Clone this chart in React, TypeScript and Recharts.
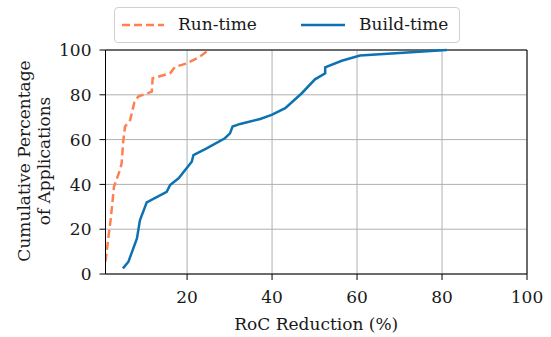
import { LineChart, Line, XAxis, YAxis, CartesianGrid, ReferenceLine } from "recharts";

// Run-time reduction (%) vs cumulative percentage of applications
const runTimeX = [0.8, 1.5, 2.0, 2.8, 4.2, 4.6, 5.0, 5.4, 6.6, 7.6, 8.5, 11.7, 11.9, 16.0, 17.2, 19.9, 23.0, 25.0];
const runTimeY = [5.5, 16.7, 24, 39, 46.4, 49.4, 59.8, 65.8, 68.8, 76.7, 79.2, 81.4, 87.4, 89.6, 92.5, 94, 97, 100];

// Build-time reduction (%) vs cumulative percentage of applications
const buildTimeX = [4.9, 6.2, 8.2, 8.9, 10.5, 15.2, 16.0, 18.0, 21.1, 21.5, 24.6, 28.9, 30.1, 30.7, 32.5, 37.2, 39.9, 43.1, 47.0, 50.1, 52.5, 52.5, 56.4, 60.7, 81.1];
const buildTimeY = [2.5, 5.5, 15.9, 24, 32, 36.7, 39.7, 42.7, 50.1, 53.1, 56.1, 60.6, 62.8, 65.8, 67, 69.2, 71, 74, 80.7, 86.9, 89.6, 92.3, 95.2, 97.5, 100];

const xTicks = [20, 40, 60, 80, 100];
const yTicks = [0, 20, 40, 60, 80, 100];

const runTime = runTimeX.map((x, i) => ({ x, y: runTimeY[i] }));
const buildTime = buildTimeX.map((x, i) => ({ x, y: buildTimeY[i] }));

const FONT = "'DejaVu Serif', serif";
const TEXT = "#1a1a1a";
const ORANGE = "#FF7F50";
const BLUE = "#0C72B2";

const XTick = ({ x, y, payload }: any) => (
  <text x={x} y={y} dy="0.71em" textAnchor="middle" style={{ fontFamily: FONT, fontSize: 17 }} fill={TEXT}>
    {payload.value}
  </text>
);

const YTick = ({ x, y, payload }: any) => (
  <text x={x} y={y} dy="0.36em" textAnchor="end" style={{ fontFamily: FONT, fontSize: 17 }} fill={TEXT}>
    {payload.value}
  </text>
);

const XLabel = ({ viewBox }: any) => (
  <text x={viewBox.x + viewBox.width / 2} y={330} textAnchor="middle" style={{ fontFamily: FONT, fontSize: 17 }} fill={TEXT}>
    RoC Reduction (%)
  </text>
);

const YLabel = () => (
  <text style={{ fontFamily: FONT, fontSize: 17 }} fill={TEXT} textAnchor="middle" transform="translate(0,161) rotate(-90)">
    <tspan x={0} y={30}>Cumulative Percentage</tspan>
    <tspan x={0} y={50}>of Applications</tspan>
  </text>
);

const LegendBox = () => (
  <div
    style={{
      position: "absolute",
      left: 114,
      top: 7,
      width: 346,
      height: 36,
      border: "1px solid #d0d0d0",
      borderRadius: 4,
      background: "#fff",
      fontFamily: FONT,
      fontSize: 17,
      color: TEXT,
      boxSizing: "border-box",
    }}
  >
    <svg width={42} height={6} style={{ position: "absolute", left: 7, top: 14 }}>
      <line x1={0} y1={3} x2={42} y2={3} stroke={ORANGE} strokeWidth={2.5} strokeDasharray="8 4" />
    </svg>
    <span style={{ position: "absolute", left: 63, top: 6, lineHeight: "20px" }}>Run-time</span>
    <svg width={44} height={6} style={{ position: "absolute", left: 186, top: 14 }}>
      <line x1={0} y1={3} x2={44} y2={3} stroke={BLUE} strokeWidth={2.5} />
    </svg>
    <span style={{ position: "absolute", left: 244, top: 6, lineHeight: "20px" }}>Build-time</span>
  </div>
);

export default function App() {
  return (
    <div style={{ position: "absolute", left: 0, top: 0, width: 551, height: 337, background: "#fff", fontFamily: FONT }}>
      <LineChart width={551} height={337} margin={{ top: 50, right: 24, bottom: 0, left: 0 }}>
        <CartesianGrid stroke="#b0b0b0" strokeWidth={1} horizontalValues={yTicks} verticalValues={xTicks} />
        <XAxis
          type="number"
          dataKey="x"
          domain={[0.8, 100]}
          ticks={xTicks}
          allowDataOverflow
          height={63}
          tickSize={6}
          tickMargin={11}
          stroke="#000"
          tick={<XTick />}
          label={<XLabel />}
        />
        <YAxis
          type="number"
          dataKey="y"
          domain={[0, 100]}
          ticks={yTicks}
          width={105.5}
          tickSize={6}
          tickMargin={8}
          stroke="#000"
          tick={<YTick />}
          label={<YLabel />}
        />
        <ReferenceLine y={100} stroke="#000" strokeWidth={1} />
        <ReferenceLine x={100} stroke="#000" strokeWidth={1} />
        <Line
          data={runTime}
          dataKey="y"
          name="Run-time"
          type="linear"
          stroke={ORANGE}
          strokeWidth={2.5}
          strokeDasharray="8 4"
          dot={false}
          isAnimationActive={false}
        />
        <Line
          data={buildTime}
          dataKey="y"
          name="Build-time"
          type="linear"
          stroke={BLUE}
          strokeWidth={2.5}
          dot={false}
          isAnimationActive={false}
        />
      </LineChart>
      <LegendBox />
    </div>
  );
}
